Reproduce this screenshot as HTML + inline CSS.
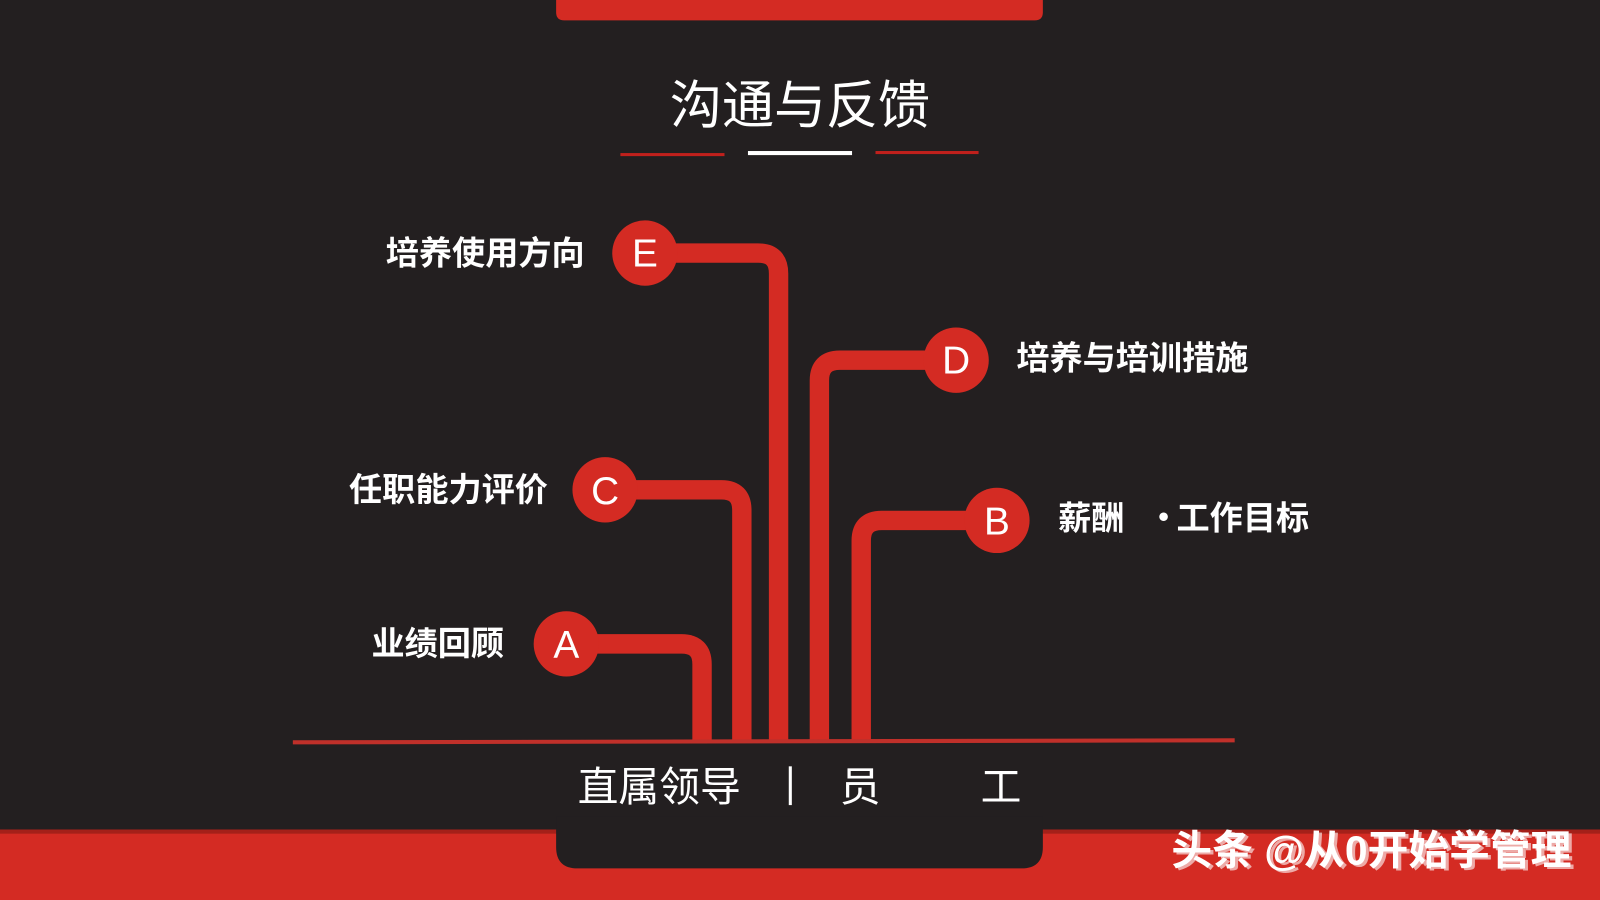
<!DOCTYPE html>
<html><head><meta charset="utf-8"><style>
html,body{margin:0;padding:0;background:#231f20;overflow:hidden}
svg{display:block}
text{font-family:"Liberation Sans","Noto Sans CJK SC",sans-serif;fill:#fff}
</style></head><body>
<svg width="1600" height="900" viewBox="0 0 1568 882" xmlns="http://www.w3.org/2000/svg">
<rect width="1568" height="882" fill="#231f20"/>
<path d="M545 0 H1022 V12 Q1022 20 1014 20 H553 Q545 20 545 12 Z" fill="#d42b23"/>
<text x="784" y="121" font-size="51" text-anchor="middle" font-family="Noto Sans CJK SC">沟通与反馈</text>
<rect x="608" y="150" width="102" height="3" fill="#c0201c"/>
<rect x="733" y="148" width="102" height="4" fill="#fff"/>
<rect x="858" y="148" width="101" height="3" fill="#c0201c"/>
<rect x="0" y="813" width="1568" height="69" fill="#d42b23"/>
<rect x="0" y="813" width="1568" height="4" fill="#a52019"/>
<path d="M545 800 H1022 V830 Q1022 851 1001 851 H566 Q545 851 545 830 Z" fill="#231f20"/>
<g fill="none" stroke="#d42b23" stroke-width="19">
<path d="M632 248 H743 Q763 248 763 268 V726"/>
<path d="M937 353 H823 Q803 353 803 373 V726"/>
<path d="M593 480 H707 Q727 480 727 500 V726"/>
<path d="M977 510 H864 Q844 510 844 530 V726"/>
<path d="M555 631 H668 Q688 631 688 651 V726"/>
</g>
<line x1="287" y1="727.5" x2="1210" y2="725.5" stroke="#c0302a" stroke-width="4"/>
<g fill="#d42b23">
<circle cx="632" cy="248" r="32"/>
<circle cx="937" cy="353" r="32"/>
<circle cx="593" cy="480" r="32"/>
<circle cx="977" cy="510" r="32"/>
<circle cx="555" cy="631" r="32"/>
</g>
<g font-size="38" text-anchor="middle">
<text x="632" y="261">E</text>
<text x="937" y="366">D</text>
<text x="593" y="494">C</text>
<text x="977" y="524">B</text>
<text x="555" y="645">A</text>
</g>
<g font-size="32.5" font-weight="bold">
<text x="573" y="259" text-anchor="end">培养使用方向</text>
<text x="537" y="491" text-anchor="end">任职能力评价</text>
<text x="494" y="642" text-anchor="end">业绩回顾</text>
<text x="996" y="362">培养与培训措施</text>
<text x="1037" y="519">薪酬</text>
<text x="1124" y="519">・</text>
<text x="1153" y="519">工作目标</text>
</g>
<g font-size="40">
<text x="646" y="785" text-anchor="middle">直属领导</text>
<rect x="773" y="751" width="3" height="38" fill="#fff"/>
<text x="843" y="785" text-anchor="middle">员</text>
<text x="981" y="785" text-anchor="middle">工</text>
</g>
<text x="1151" y="849" font-size="40" font-weight="bold" fill="#000" opacity="0.6" textLength="392">头条 @从0开始学管理</text>
<text x="1148" y="847" font-size="40" font-weight="bold" textLength="392">头条 @从0开始学管理</text>
</svg>
</body></html>
